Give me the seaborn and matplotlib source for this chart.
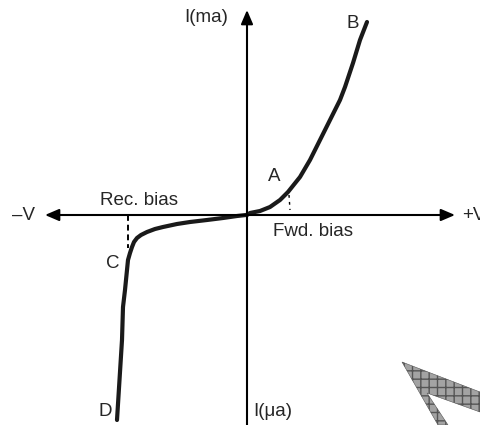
"""
Diode V-I characteristic sketch (forward / reverse bias).
"""

import matplotlib
matplotlib.use("Agg")
import matplotlib.pyplot as plt
import numpy as np
import pandas as pd
import seaborn as sns
from matplotlib.patches import Polygon

# curve, from D (deep reverse) through origin to B
VOLTAGE = [-130, -125, -124, -122, -121, -120, -119, -117, -115, -113, -110, -106,
           -100, -92, -84, -70, -57, -40, -24, -10, -1,
           0, 3, 13, 23, 33, 41, 53, 63, 73, 83, 93, 98, 106, 113, 120]
CURRENT = [-205, -125, -92, -75, -65, -55, -45, -38, -32, -27, -23, -20,
           -17, -14, -12, -9, -7, -5, -3, -1, 0,
           0, 2, 4, 8, 15, 23, 38, 55, 75, 95, 115, 128, 152, 175, 193]

# dashed drop lines at C (breakdown) and A (knee)
DROP_C_V = [-119, -119]
DROP_C_I = [0, -33]
DROP_A_V = [42, 43]
DROP_A_I = [20, 5]

AXIS_X = (-202, 208)
AXIS_Y = (-215, 205)

# stray hatched shape cut off at the lower right
SHAPE_V = [155, 233, 233, 180, 201, 191]
SHAPE_I = [-147, -177, -197, -178, -210, -210]

sns.set_theme(style="white")
plt.rcParams["font.family"] = ["Liberation Sans", "DejaVu Sans"]

fig = plt.figure(figsize=(4.8, 4.25), dpi=100)
ax = fig.add_axes([0, 0, 1, 1])
ax.set_xlim(-247, 233)
ax.set_ylim(-210, 215)
ax.set_axis_off()

arrow = dict(arrowstyle="-|>,head_length=0.7,head_width=0.3", color="black", lw=1.5,
             shrinkA=0, shrinkB=0)
ax.annotate("", xy=(AXIS_X[0], 0), xytext=(0, 0), arrowprops=arrow)
ax.annotate("", xy=(AXIS_X[1], 0), xytext=(0, 0), arrowprops=arrow)
ax.annotate("", xy=(0, AXIS_Y[1]), xytext=(0, AXIS_Y[0]), arrowprops=arrow)

df = pd.DataFrame({"V": VOLTAGE, "I": CURRENT})
sns.lineplot(data=df, x="V", y="I", sort=False, color="#1a1a1a", linewidth=3.0,
             ax=ax, legend=False)
for line in ax.lines:
    line.set_solid_joinstyle("round")
ax.plot(DROP_C_V, DROP_C_I, color="black", lw=1.4, ls=(0, (3, 2)))
ax.plot(DROP_A_V, DROP_A_I, color="black", lw=1.0, ls=(0, (2, 3)))

ax.add_patch(Polygon(np.column_stack([SHAPE_V, SHAPE_I]), closed=True,
                     facecolor="#a3a3a3", edgecolor="#555555", hatch="++", lw=0.4))

fs = 13.5
ax.text(-19, 198, "I(ma)", fontsize=fs, ha="right", va="center")
ax.text(106, 192, "B", fontsize=fs, ha="center", va="center")
ax.text(27, 39, "A", fontsize=fs, ha="center", va="center")
ax.text(-108, 15, "Rec. bias", fontsize=fs, ha="center", va="center")
ax.text(66, -16, "Fwd. bias", fontsize=fs, ha="center", va="center")
ax.text(-134, -49, "C", fontsize=fs, ha="center", va="center")
ax.text(-142, -196, "D", fontsize=fs, ha="center", va="center")
ax.text(6, -196, "I(\u03bca)", fontsize=fs, ha="left", va="center")
ax.text(-223, 0, "\u2013V", fontsize=fs, ha="center", va="center")
ax.text(215, 0, "+V", fontsize=fs, ha="left", va="center")

fig.savefig("out.png", dpi=100, facecolor="white")
plt.close(fig)
